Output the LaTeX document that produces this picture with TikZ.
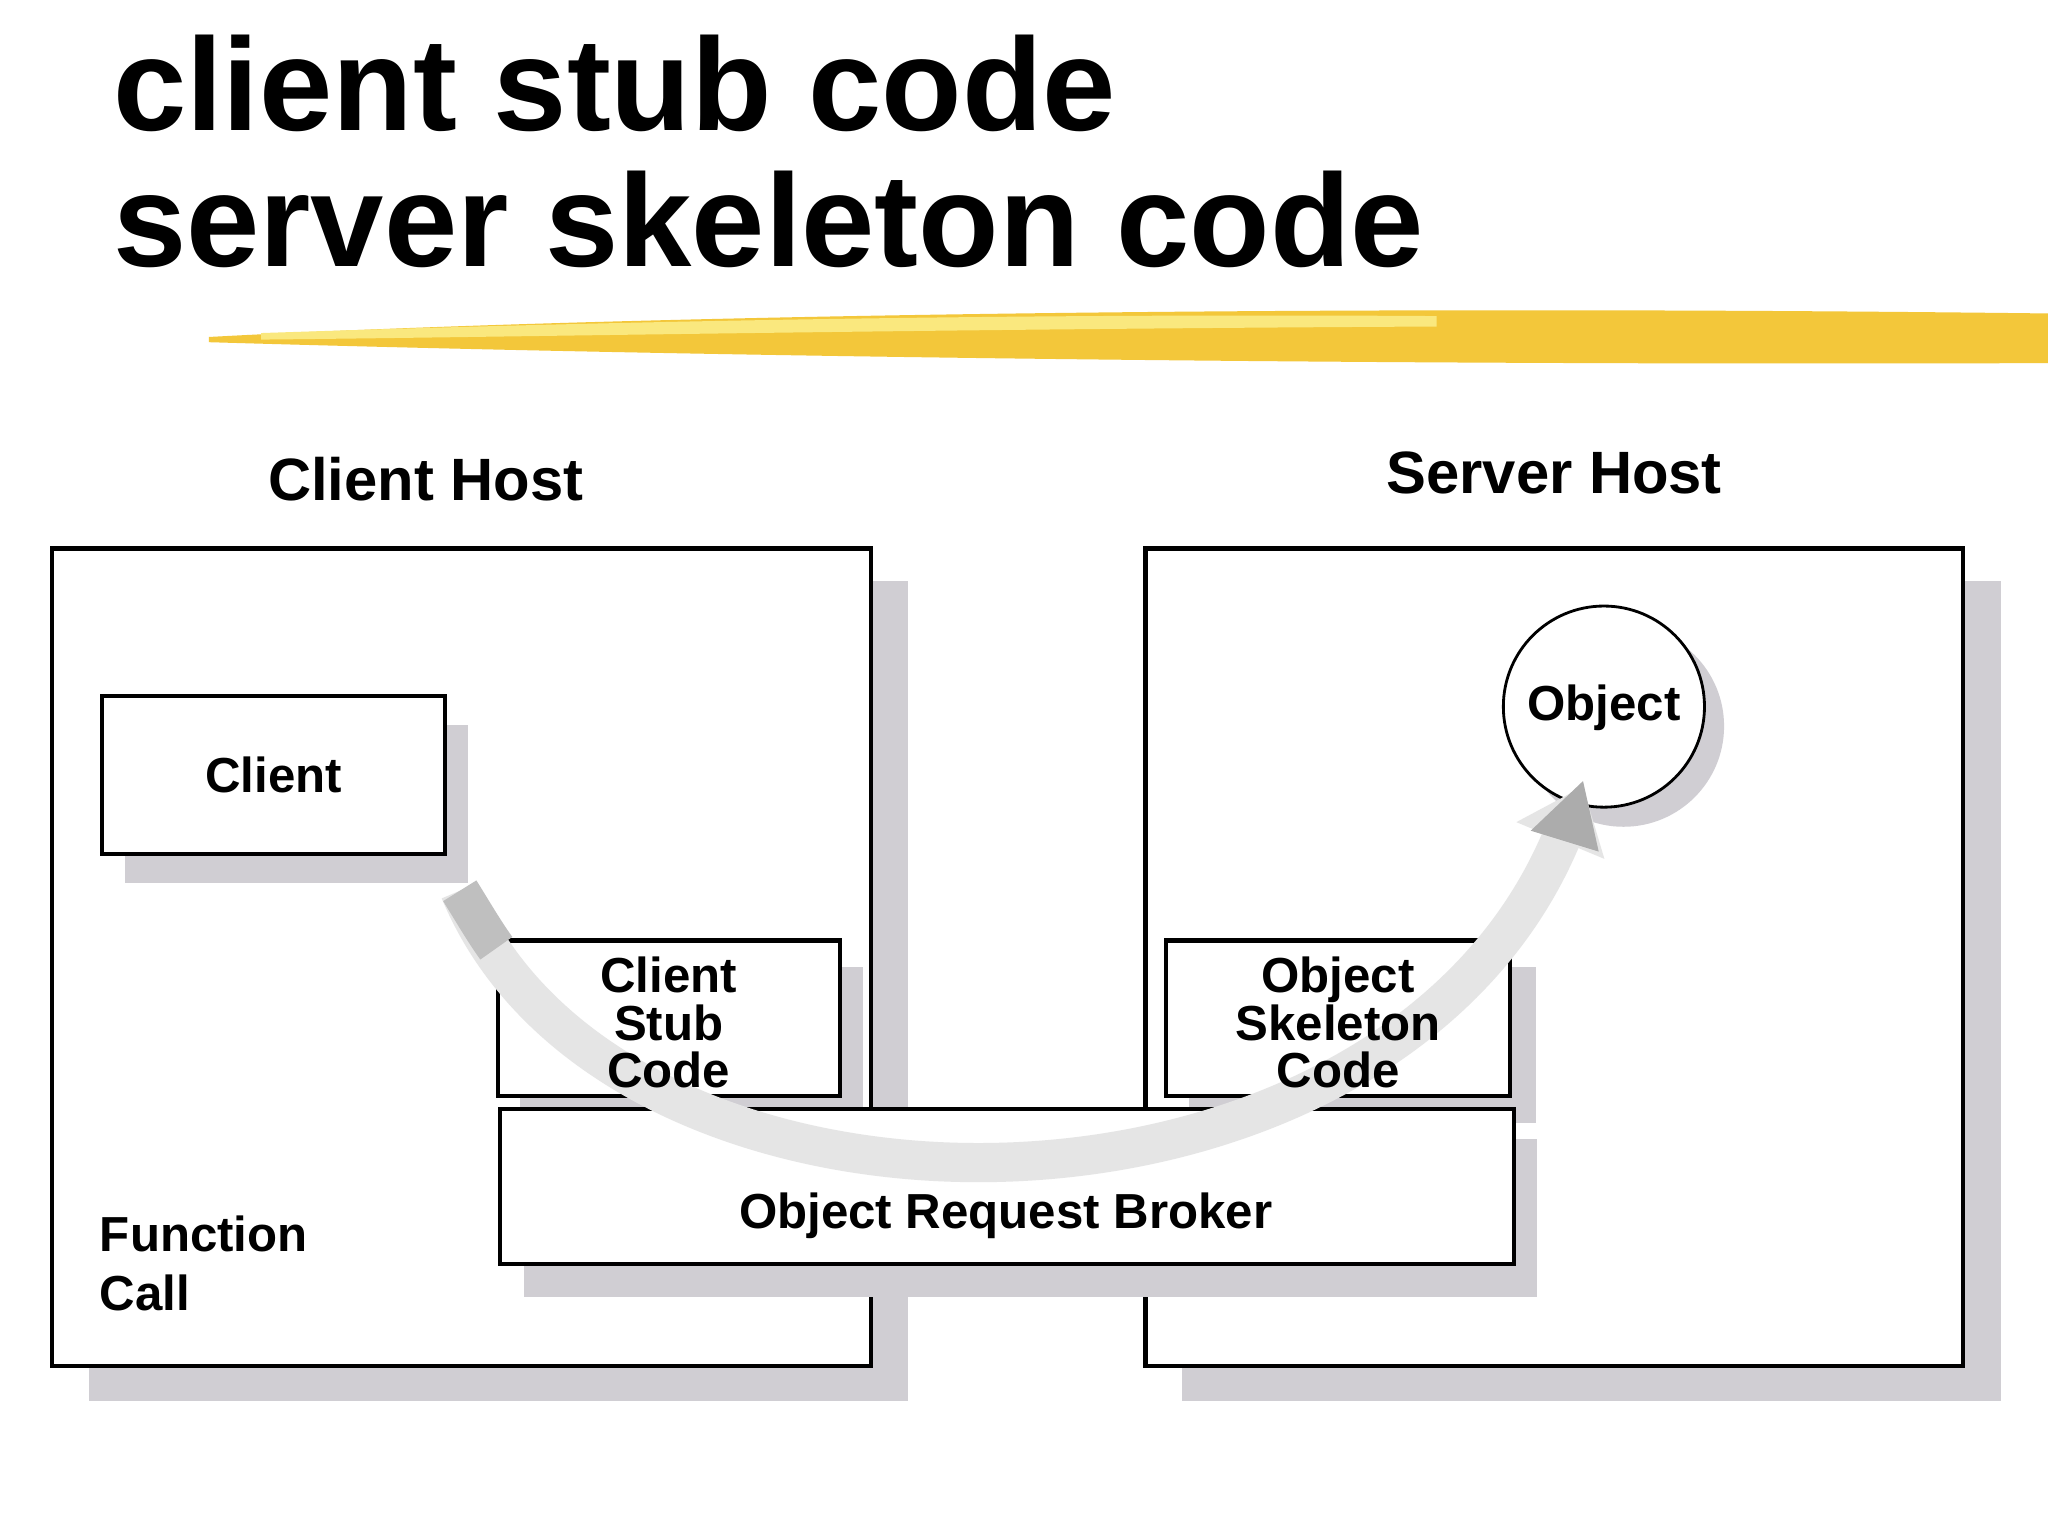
\documentclass[tikz,border=0pt]{standalone}
\usepackage{fontspec}
\setmainfont{Liberation Sans}
\usetikzlibrary{arrows.meta}
\begin{document}
\def\u{0.01306cm}
\begin{tikzpicture}[x=0.01306cm,y=-0.01306cm,
  box/.style={draw=black,line width=1.2pt,fill=white,inner sep=0pt,font=\bfseries\fontsize{14}{16}\selectfont,align=center},
  shadow/.style={fill=shadowgray,draw=none},
  lab/.style={font=\bfseries\fontsize{17}{20}\selectfont},
  inner/.style={font=\bfseries\fontsize{14}{13.5}\selectfont,align=center},
  title/.style={font=\bfseries\fontsize{37.5}{42}\selectfont,anchor=base west,inner sep=0pt}]
\definecolor{shadowgray}{HTML}{D0CED3}
\definecolor{brush}{HTML}{F3C73A}
\useasboundingbox (0,0) rectangle (1568,1176);
\fill[white] (0,0) rectangle (1568,1176);
% title
\node[title] (t1) at (86,100) {client stub code};
\node[title] (t2) at (86,204) {server skeleton code};
% brush stroke
\fill[brush] (160,258) .. controls (400,245) and (900,232) .. (1568,240) -- (1568,278) .. controls (1000,280) and (500,272) .. (160,262) -- cycle;
\fill[brush!70!yellow!60] (200,255) .. controls (500,245) and (800,240) .. (1100,242) -- (1100,250) .. controls (700,252) and (400,258) .. (200,260) -- cycle;
% host labels
\node[lab] (ch) at (326,367) {Client Host};
\node[lab] (sh) at (1190,362) {Server Host};
% shadows
\fill[shadow] (68,445) rectangle (695,1073);
\fill[shadow] (905,445) rectangle (1532,1073);
% big boxes
\node[box,minimum width=627*\u,minimum height=626*\u] (left) at (353.5,733) {};
\node[box,minimum width=626*\u,minimum height=626*\u] (right) at (1190,733) {};
% inner shadows
\fill[shadow] (96,555) rectangle (358,676);
\fill[shadow] (398,740) rectangle (661,848);
\fill[shadow] (910,740) rectangle (1176,860);
\fill[shadow] (401,872) rectangle (1177,993);
\fill[shadow] (1243,556) circle (77);
% inner boxes
\node[box,minimum width=263*\u,minimum height=121*\u] (client) at (209.5,593.5) {Client};
\node[box,minimum width=262*\u,minimum height=119*\u] (stub) at (512,779.5) {};
\node[box,minimum width=263*\u,minimum height=119*\u] (skel) at (1024.5,779.5) {};
\node[box,minimum width=776*\u,minimum height=119*\u] (orb) at (771,908.5) {};
\node[box,circle,minimum size=154*\u,line width=0.8pt] (obj) at (1228,541) {};
% arrow
\coordinate (a0) at (352,682);
\coordinate (a1) at (1212,602);
\draw[line width=30*\u,gray!20,-{Triangle[length=45*\u,width=70*\u]}] (a0) .. controls (470,966) and (1060,966) .. (a1);
\draw[line width=30*\u,gray!50] (a0) .. controls (362,698) and (370,712) .. (380,726);
\fill[gray!65] (1212,598) -- (1172,636) -- (1224,652) -- cycle;
% texts
\node[inner] (stubt) at (512,783) {Client\\Stub\\Code};
\node[inner] (skelt) at (1024.5,783) {Object\\Skeleton\\Code};
\node[font=\bfseries\fontsize{14}{16}\selectfont] (orbt) at (770,931) {Object Request Broker};
\node[font=\bfseries\fontsize{14}{16}\selectfont] (objt) at (1228,542) {Object};
\node[font=\bfseries\fontsize{14}{17}\selectfont,align=left,anchor=north west,inner sep=0pt] (fc) at (76,930) {Function\\Call};
\end{tikzpicture}
\end{document}
